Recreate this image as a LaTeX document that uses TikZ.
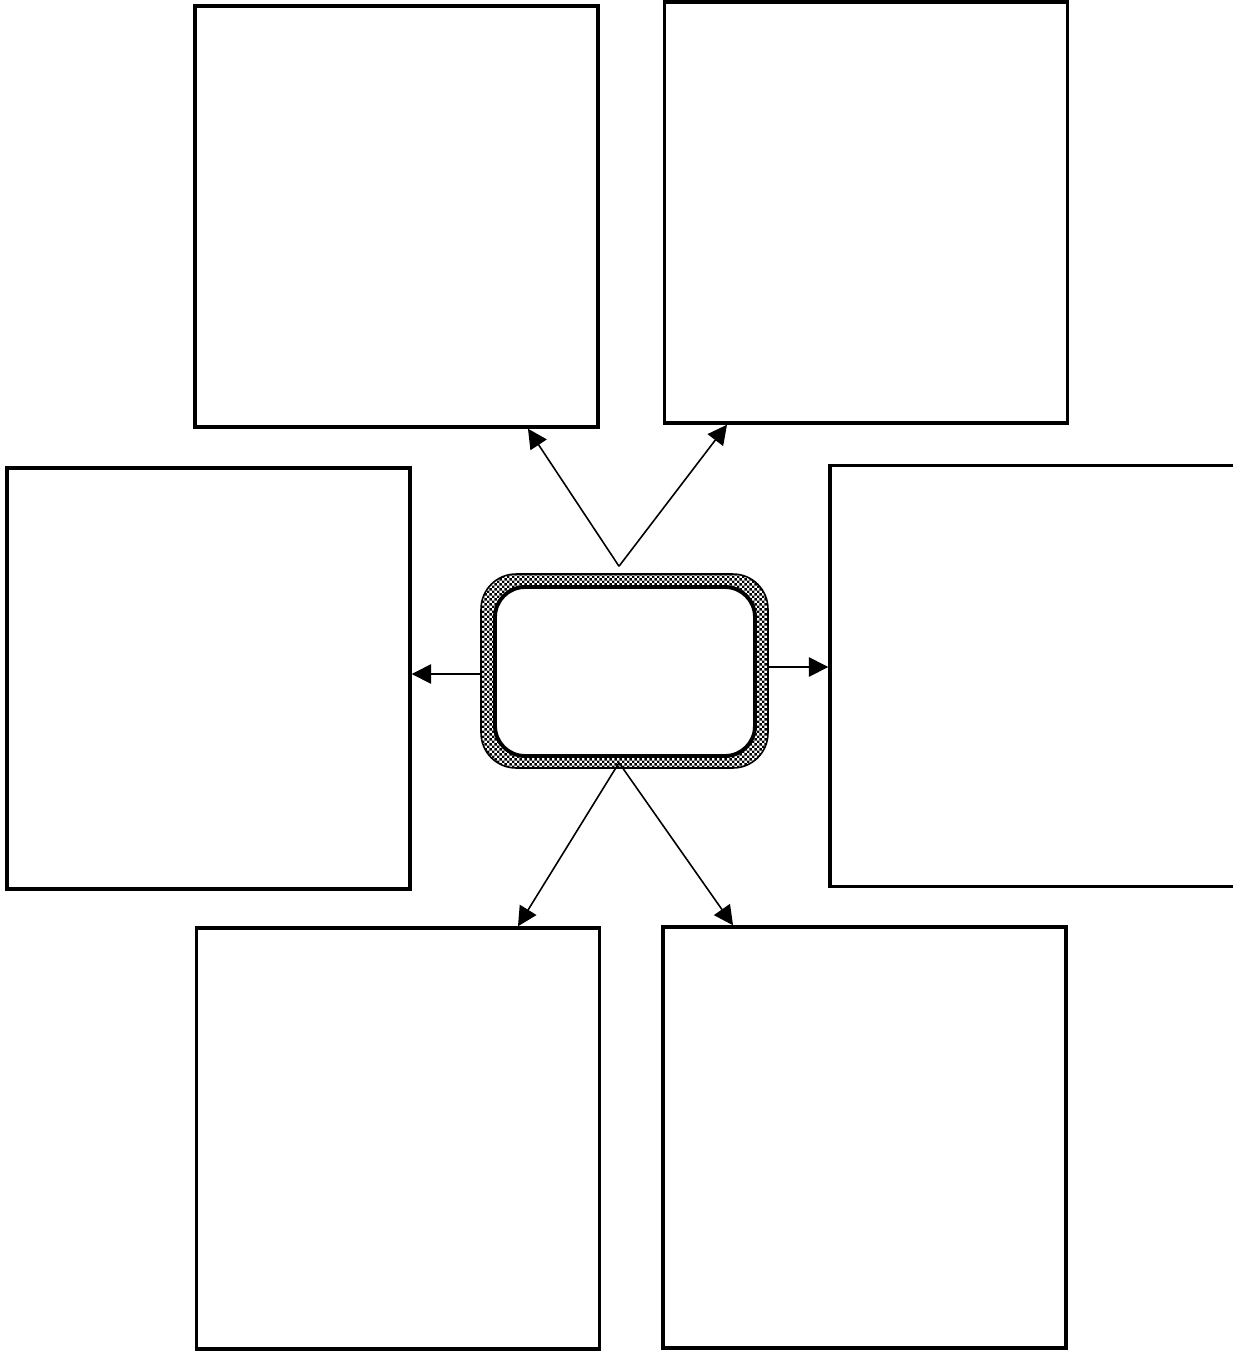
\documentclass[tikz,border=0pt]{standalone}
\usetikzlibrary{positioning,arrows.meta,patterns.meta}

% fine checkered fill for the rim of the hub
\tikzdeclarepattern{
  name=finecheck,
  type=uncolored,
  bottom left={(0pt,0pt)},
  top right={(2.8pt,2.8pt)},
  tile size={(2.8pt,2.8pt)},
  code={
    \fill (0pt,0pt) rectangle (1.4pt,1.4pt);
    \fill (1.4pt,1.4pt) rectangle (2.8pt,2.8pt);
  }
}

\begin{document}
\begin{tikzpicture}[
  x=0.02cm, y=-0.02cm,
  % Global box styling
  every node/.style={draw=black, line width=2pt, inner sep=0pt},
  box/.style={minimum width=8.06cm, minimum height=8.42cm},
  % Specific styles
  rim/.style={rounded corners=0.7cm, minimum width=5.74cm, minimum height=3.88cm, line width=0.9pt, pattern=finecheck, pattern color=black},
  hub/.style={rounded corners=0.6cm, minimum width=5.2cm, minimum height=3.38cm, line width=2.2pt, fill=white},
  link/.style={line width=0.9pt, -{Triangle[length=11pt,width=11pt]}}
]
\useasboundingbox (0,0) rectangle (1232,1353);

\node[box] (tl) at (396.5,216.5) {};
\node[box] (tr) at (866,212.5) {};
\node[box] (ml) at (208.5,678.5) {};
\node[box, minimum width=8.12cm] (mr) at (1033,676) {};
\node[box] (bl) at (398,1138.5) {};
\node[box] (br) at (864.5,1137.5) {};

% the hub in the middle
\node[rim] (rim) at (624.5,671) {};
\node[hub] (hub) at (625,671.5) {};

\coordinate (apexTop) at ([xshift=-0.11cm, yshift=0.14cm]rim.north);
\coordinate (apexBottom) at ([xshift=-0.11cm, yshift=0.12cm]rim.south);

\draw[link] (apexTop) -- ([xshift=2.63cm]tl.south);
\draw[link] (apexTop) -- ([xshift=-2.78cm]tr.south);
\draw[link] ([yshift=-0.06cm]rim.west) -- ([yshift=-0.06cm]rim.west -| ml.east);
\draw[link] ([yshift=0.08cm]rim.east) -- ([yshift=0.08cm]rim.east -| mr.west);
\draw[link] (apexBottom) -- ([xshift=2.4cm]bl.north);
\draw[link] (apexBottom) -- ([xshift=-2.63cm]br.north);

\end{tikzpicture}
\end{document}
